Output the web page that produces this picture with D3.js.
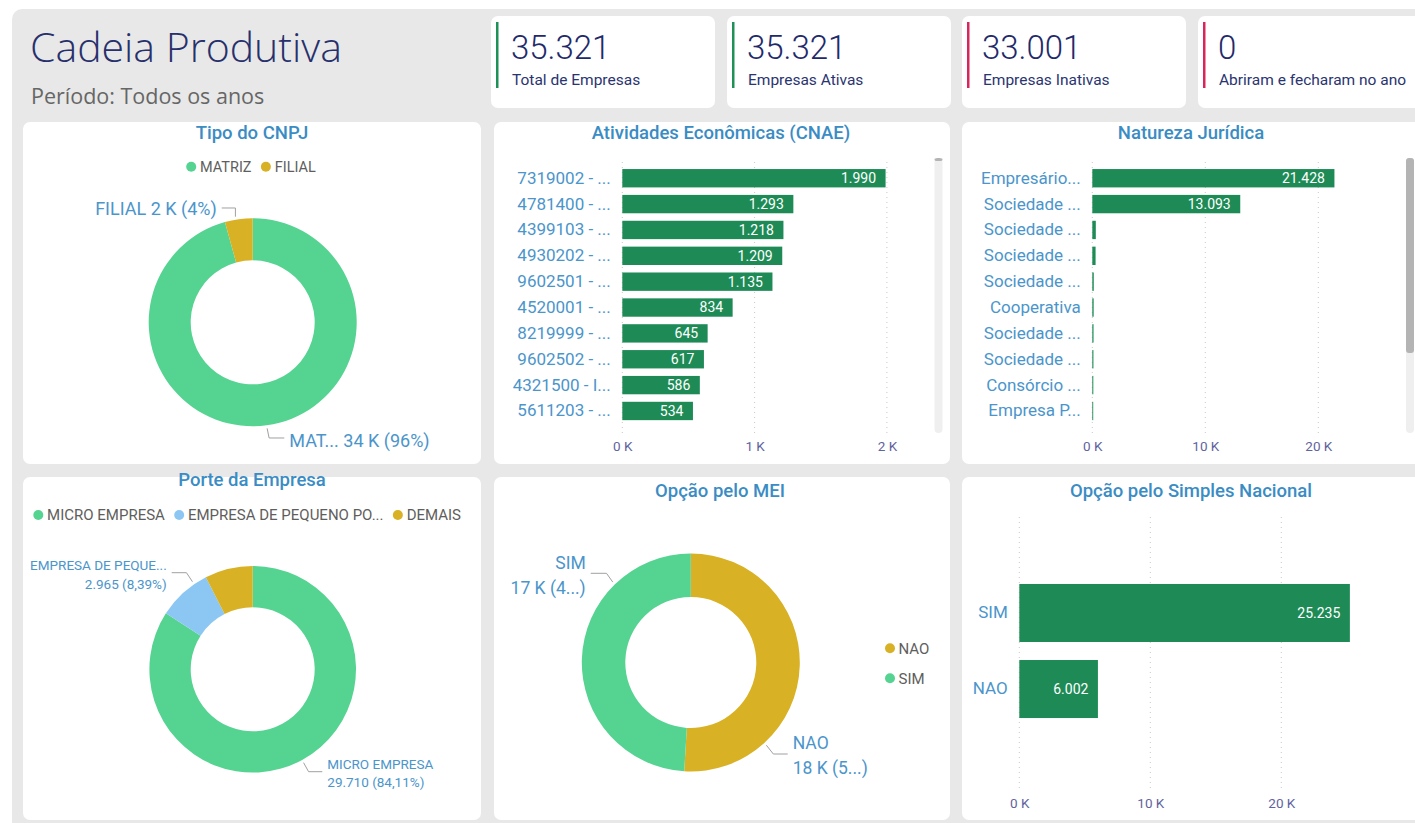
<!DOCTYPE html>
<html><head><meta charset="utf-8">
<script src="https://cdn.jsdelivr.net/npm/d3@7"></script>
<style>
html,body{margin:0;padding:0;background:#fff;overflow:hidden;}
svg{display:block;font-family:"Roboto","Noto Sans",sans-serif;}
</style></head><body>
<svg id="c" width="1415" height="823"></svg>
<script>
// ---------------- DATA ----------------
const kpiValores = [35321, 35321, 33001, 0];
const kpiRotulos = ["Total de Empresas", "Empresas Ativas", "Empresas Inativas", "Abriram e fecharam no ano"];
const kpiStatus = ["ativo", "ativo", "inativo", "inativo"];

const tipoCategorias = ["MATRIZ", "FILIAL"];
const tipoNomesCurtos = ["MAT...", "FILIAL"];
const tipoValores = [33801, 1520];

const cnaeCategorias = ["7319002 - ...", "4781400 - ...", "4399103 - ...", "4930202 - ...", "9602501 - ...",
  "4520001 - ...", "8219999 - ...", "9602502 - ...", "4321500 - I...", "5611203 - ..."];
const cnaeValores = [1990, 1293, 1218, 1209, 1135, 834, 645, 617, 586, 534];
const cnaeTicks = [0, 1000, 2000];

const naturezaCategorias = ["Empresário...", "Sociedade ...", "Sociedade ...", "Sociedade ...", "Sociedade ...",
  "Cooperativa", "Sociedade ...", "Sociedade ...", "Consórcio ...", "Empresa P..."];
const naturezaValores = [21428, 13093, 310, 290, 130, 120, 110, 100, 90, 80];
const naturezaTicks = [0, 10000, 20000];

const porteCategorias = ["MICRO EMPRESA", "EMPRESA DE PEQUENO PORTE", "DEMAIS"];
const porteLegenda = ["MICRO EMPRESA", "EMPRESA DE PEQUENO PO...", "DEMAIS"];
const porteNomesRotulo = ["MICRO EMPRESA", "EMPRESA DE PEQUE...", "DEMAIS"];
const porteValores = [29710, 2965, 2646];

const meiCategorias = ["NAO", "SIM"];
const meiValores = [18000, 17321];

const simplesCategorias = ["SIM", "NAO"];
const simplesValores = [25235, 6002];
const simplesTicks = [0, 10000, 20000];

// ---------------- STYLE ----------------
const C = {
  bg: "#e8e8e8", card: "#ffffff", bar: "#1e8b56", green: "#55d391", gold: "#d9b124", blue: "#8cc7f4",
  title: "#3a8cc4", cat: "#4b95cb", tick: "#5f639e", legend: "#605e5c", leader: "#a0a0a0",
  kpiNum: "#1f2a6b", kpiLab: "#2a3470", ativo: "#1f9157", inativo: "#d7265b"
};
const loc = d3.formatLocale({decimal: ",", thousands: ".", grouping: [3], currency: ["R$", ""]});
const fmtInt = loc.format(",d");
const fmtPct = loc.format(".2%");
const fmtK = v => (v / 1000) + " K";

const svg = d3.select("#c");
svg.append("rect").attr("x", 12).attr("y", 9).attr("width", 1430).attr("height", 840).attr("rx", 10).attr("fill", C.bg);

// header
svg.append("text").attr("x", 30).attr("y", 62).text("Cadeia Produtiva")
  .attr("font-family", "'Segoe UI Light','Open Sans','Lato',sans-serif").attr("font-weight", 300)
  .attr("font-size", 41).attr("fill", "#27306c");
svg.append("text").attr("x", 31).attr("y", 96).attr("dy", "0.35em").text("Período: Todos os anos")
  .attr("font-family", "'Segoe UI','Open Sans',sans-serif").attr("font-size", 21.5).attr("fill", "#666");

// KPI cards
const kpiX = [491, 727, 962, 1198];
kpiValores.forEach((v, i) => {
  const g = svg.append("g").attr("transform", `translate(${kpiX[i]},16)`);
  g.append("rect").attr("width", 224).attr("height", 92).attr("rx", 7).attr("fill", C.card);
  g.append("rect").attr("x", 5).attr("y", 6).attr("width", 2.5).attr("height", 66).attr("fill", C[kpiStatus[i]]);
  g.append("text").attr("x", 20).attr("y", 31).attr("dy", "0.35em").text(fmtInt(v))
    .attr("font-weight", 300).attr("font-size", 33).attr("fill", C.kpiNum);
  g.append("text").attr("x", 21).attr("y", 64).attr("dy", "0.35em").text(kpiRotulos[i])
    .attr("font-size", 15.5).attr("fill", C.kpiLab);
});

// panels
const P = {
  tipo: {x: 23, y: 122, w: 458, h: 342},
  cnae: {x: 494, y: 122, w: 456, h: 342},
  nat: {x: 962, y: 122, w: 470, h: 342},
  porte: {x: 23, y: 477, w: 458, h: 343},
  mei: {x: 494, y: 477, w: 456, h: 343},
  simples: {x: 962, y: 477, w: 470, h: 343}
};
Object.values(P).forEach(p => svg.append("rect").attr("x", p.x).attr("y", p.y).attr("width", p.w).attr("height", p.h).attr("rx", 7).attr("fill", C.card));

function title(txt, cx, cy) {
  svg.append("text").attr("x", cx).attr("y", cy).attr("dy", "0.35em").attr("text-anchor", "middle")
    .text(txt).attr("font-size", 18.5).attr("font-weight", 500).attr("fill", C.title);
}
title("Tipo do CNPJ", 252, 132.5);
title("Atividades Econômicas (CNAE)", 721, 132.5);
title("Natureza Jurídica", 1191, 132.5);
title("Porte da Empresa", 252, 480);
title("Opção pelo MEI", 720, 490.5);
title("Opção pelo Simples Nacional", 1191, 490.5);

// ---------------- BAR CHARTS ----------------
function hbar(cfg) {
  const g = svg.append("g");
  const x = d3.scaleLinear().domain(cfg.domain).range(cfg.xRange);
  const y = d3.scaleBand().domain(d3.range(cfg.cats.length)).range(cfg.yRange)
    .paddingInner(cfg.pi).paddingOuter(cfg.po);
  g.selectAll("line.grid").data(cfg.ticks).join("line")
    .attr("x1", d => x(d)).attr("x2", d => x(d)).attr("y1", cfg.gridY[0]).attr("y2", cfg.gridY[1])
    .attr("stroke", "#c8c8c8").attr("stroke-width", 1).attr("stroke-dasharray", "1,4");
  const ax = g.append("g").attr("transform", `translate(0,${cfg.tickY})`)
    .call(d3.axisBottom(x).tickValues(cfg.ticks).tickFormat(fmtK).tickSize(0).tickPadding(0));
  ax.select(".domain").remove();
  ax.selectAll("text").attr("y", 0).attr("dy", "0.35em").attr("fill", C.tick)
    .attr("font-size", 13.5).attr("font-family", "Roboto,sans-serif");
  const ay = g.append("g").attr("transform", `translate(${cfg.xRange[0]},0)`)
    .call(d3.axisLeft(y).tickFormat(i => cfg.cats[i]).tickSize(0).tickPadding(11.5));
  ay.select(".domain").remove();
  ay.selectAll("text").attr("fill", C.cat).attr("font-size", 17).attr("font-family", "Roboto,sans-serif");
  g.selectAll("rect.bar").data(cfg.vals).join("rect")
    .attr("x", x(0)).attr("y", (d, i) => y(i)).attr("width", d => x(d) - x(0)).attr("height", y.bandwidth())
    .attr("fill", C.bar);
  g.selectAll("text.val").data(cfg.vals.map((v, i) => ({v, i})).filter(d => x(d.v) - x(0) > 40)).join("text")
    .attr("x", d => x(d.v) - 9.5).attr("y", d => y(d.i) + y.bandwidth() / 2).attr("dy", "0.35em")
    .attr("text-anchor", "end").attr("fill", "#fff").attr("font-size", 14).text(d => fmtInt(d.v));
}

hbar({cats: cnaeCategorias, vals: cnaeValores, ticks: cnaeTicks, domain: [0, 2000], xRange: [622.3, 886.9],
  yRange: [165.3, 423.9], pi: 0.29, po: 0.145, gridY: [162, 433], tickY: 446});
hbar({cats: naturezaCategorias, vals: naturezaValores, ticks: naturezaTicks, domain: [0, 20000], xRange: [1092.3, 1318.3],
  yRange: [165.3, 423.9], pi: 0.29, po: 0.145, gridY: [162, 433], tickY: 446});
hbar({cats: simplesCategorias, vals: simplesValores, ticks: simplesTicks, domain: [0, 20000], xRange: [1019.3, 1281.3],
  yRange: [575, 727], pi: 0.237, po: 0.118, gridY: [517, 792], tickY: 803});

function scroll(x, y0, y1, t0, t1) {
  svg.append("rect").attr("x", x).attr("y", y0).attr("width", 8).attr("height", y1 - y0).attr("rx", 4).attr("fill", "#efefef");
  svg.append("rect").attr("x", x).attr("y", t0).attr("width", 8).attr("height", t1 - t0).attr("rx", 3).attr("fill", "#b4b4b4");
}
scroll(934.5, 158, 433, 158, 161);
scroll(1406, 158, 433, 158, 353);

// ---------------- DONUTS ----------------
function donut(cfg) {
  const g = svg.append("g");
  const total = d3.sum(cfg.vals);
  const arcs = d3.pie().sort(null).value(d => d)(cfg.vals);
  const arc = d3.arc().innerRadius(cfg.ri).outerRadius(cfg.ro);
  g.attr("transform", `translate(${cfg.cx},${cfg.cy})`);
  g.selectAll("path").data(arcs).join("path").attr("d", arc).attr("fill", (d, i) => cfg.colors[i]);
  cfg.labels.forEach(L => {
    const a = arcs[L.i];
    const ang = a.startAngle + (a.endAngle - a.startAngle) * L.t;
    const r = cfg.ro + 3;
    const sx = r * Math.sin(ang), sy = -r * Math.cos(ang);
    const pts = [[sx, sy], [sx + L.side * L.ex, L.lineY], [L.textX - L.side * 5, L.lineY]];
    g.append("path").attr("d", d3.line()(pts)).attr("fill", "none").attr("stroke", C.leader).attr("stroke-width", 1);
    const lines = cfg.labelText(L.i, cfg.vals[L.i] / total);
    lines.forEach((s, k) => {
      g.append("text").attr("x", L.textX).attr("y", L.lineY + L.offs[k]).attr("dy", "0.35em")
        .attr("text-anchor", L.side > 0 ? "start" : "end").attr("fill", C.cat)
        .attr("font-size", cfg.fs).text(s);
    });
  });
}

donut({cx: 252.7, cy: 322.3, ro: 104, ri: 62, vals: tipoValores, colors: [C.green, C.gold], fs: 18,
  labelText: (i, p) => [`${tipoNomesCurtos[i]} ${Math.round(tipoValores[i] / 1000)} K (${Math.round(p * 100)}%)`],
  labels: [
    {i: 1, t: 0.4, side: -1, ex: 0, lineY: -114.3, textX: -36, offs: [0.5]},
    {i: 0, t: 0.5, side: 1, ex: 2, lineY: 115.7, textX: 36.6, offs: [2.5]}
  ]});

donut({cx: 252.7, cy: 669.3, ro: 103.3, ri: 62, vals: porteValores, colors: [C.green, C.blue, C.gold], fs: 13.5,
  labelText: (i, p) => [porteNomesRotulo[i], `${fmtInt(porteValores[i])} (${fmtPct(p)})`],
  labels: [
    {i: 1, t: 0.75, side: -1, ex: 6, lineY: -96.6, textX: -86, offs: [-7.3, 11.3]},
    {i: 0, t: 0.5, side: 1, ex: 5, lineY: 102.4, textX: 74.6, offs: [-7.7, 10.6]}
  ]});

donut({cx: 690.8, cy: 662.5, ro: 109, ri: 65.5, vals: meiValores, colors: [C.gold, C.green], fs: 17.5,
  labelText: (i, p) => [meiCategorias[i], `${Math.round(meiValores[i] / 1000)} K (${String(Math.floor(p * 100)).charAt(0)}...)`],
  labels: [
    {i: 1, t: 0.75, side: -1, ex: 6.3, lineY: -89.2, textX: -105.1, offs: [-10.6, 15]},
    {i: 0, t: 0.75, side: 1, ex: 7, lineY: 91.5, textX: 101.9, offs: [-10.7, 13.7]}
  ]});

function legendRow(items, colors, x0, y, centerX, fs) {
  const g = svg.append("g");
  let x = 0;
  items.forEach((s, i) => {
    g.append("circle").attr("cx", x + 5).attr("cy", y).attr("r", 5).attr("fill", colors[i]);
    const t = g.append("text").attr("x", x + 13.8).attr("y", y).attr("dy", "0.35em").text(s)
      .attr("font-size", fs).attr("fill", C.legend);
    x = x + 13.8 + t.node().getComputedTextLength() + 9.3;
  });
  const total = x - 9.3;
  const tx = centerX != null ? centerX - total / 2 : x0;
  g.attr("transform", `translate(${tx},0)`);
}
legendRow(tipoCategorias, [C.green, C.gold], null, 166.7, 251, 14.5);
legendRow(porteLegenda, [C.green, C.blue, C.gold], 33.3, 515, null, 15);
meiCategorias.forEach((s, i) => {
  const y = 648.3 + i * 30;
  svg.append("circle").attr("cx", 890).attr("cy", y).attr("r", 5).attr("fill", [C.gold, C.green][i]);
  svg.append("text").attr("x", 898.5).attr("y", y).attr("dy", "0.35em").text(s).attr("font-size", 15).attr("fill", C.legend);
});
</script>
</body></html>
